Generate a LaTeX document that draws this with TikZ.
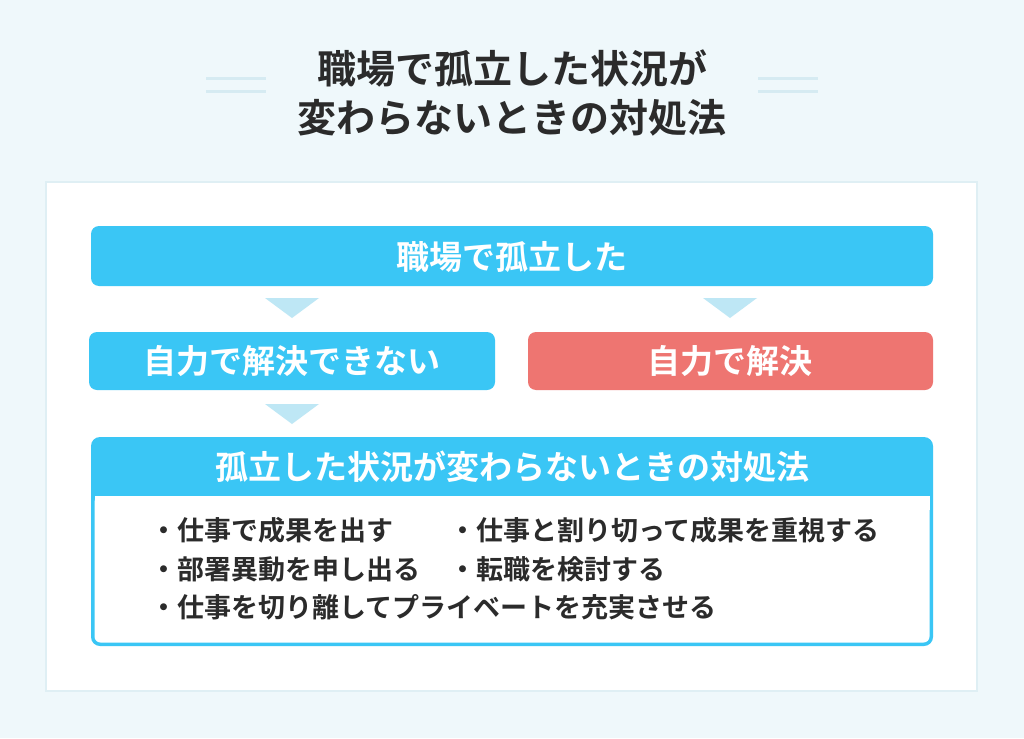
\documentclass[tikz,border=0pt]{standalone}
\usepackage{fontspec}
\setmainfont{Noto Sans CJK JP}[BoldFont={Noto Sans CJK JP Bold}]
\definecolor{bg}{HTML}{EFF8FB}
\definecolor{panelborder}{HTML}{DFEFF4}
\definecolor{mainblue}{HTML}{3AC6F5}
\definecolor{mainred}{HTML}{EE7571}
\definecolor{tri}{HTML}{BEE7F5}
\definecolor{deco}{HTML}{D6EBF2}
\definecolor{txt}{HTML}{2B2B2B}
\tikzset{
  bar/.style={fill=mainblue, rounded corners=8pt, draw=none},
  bartext/.style={text=white, font=\bfseries\fontsize{33}{38}\selectfont},
  arrowtri/.style={fill=tri, draw=none},
  bullet/.style={anchor=west, text=txt, font=\bfseries\fontsize{27}{30}\selectfont, inner sep=0pt},
  decoline/.style={draw=deco, line width=3pt},
  titletext/.style={text=txt, font=\bfseries\fontsize{39}{44}\selectfont},
}
\begin{document}
\begin{tikzpicture}[x=1pt,y=-1pt]
\fill[bg] (0,0) rectangle (1024,738);
\useasboundingbox (0,0) rectangle (1024,738);
% title
\node[titletext] (t1) at (512,68) {職場で孤立した状況が};
\node[titletext] (t2) at (512,118) {変わらないときの対処法};
\draw[decoline] (206,79) -- (266,79);
\draw[decoline] (206,92) -- (266,92);
\draw[decoline] (758,79) -- (818,79);
\draw[decoline] (758,92) -- (818,92);
% panel
\filldraw[fill=white, draw=panelborder, line width=2.5pt] (46,182) rectangle (977,691);
% top bar
\fill[bar] (91,226) rectangle (933,286);
\node[bartext] (top) at (512,257) {職場で孤立した};
% triangles
\fill[arrowtri] (265,298) -- (319,298) -- (292,318) -- cycle;
\fill[arrowtri] (703,298) -- (757,298) -- (730,318) -- cycle;
% middle boxes
\fill[bar] (89,332) rectangle (495,390);
\node[bartext] (left) at (292,361) {自力で解決できない};
\fill[bar, fill=mainred] (528,332) rectangle (933,390);
\node[bartext] (right) at (730,361) {自力で解決};
\fill[arrowtri] (265,404) -- (319,404) -- (292,424) -- cycle;
% bottom box
\fill[mainblue, rounded corners=9pt] (91,437) rectangle (933,646);
\fill[white, rounded corners=6pt] (94.5,496) rectangle (929.5,642.5);
\fill[white] (94.5,496) rectangle (929.5,510);
\node[bartext] (head) at (512,467) {孤立した状況が変わらないときの対処法};
\node[bullet] (b1) at (150,530) {・仕事で成果を出す};
\node[bullet] (b2) at (449,530) {・仕事と割り切って成果を重視する};
\node[bullet] (b3) at (150,569) {・部署異動を申し出る};
\node[bullet] (b4) at (449,569) {・転職を検討する};
\node[bullet] (b5) at (150,607) {・仕事を切り離してプライベートを充実させる};
\end{tikzpicture}
\end{document}
